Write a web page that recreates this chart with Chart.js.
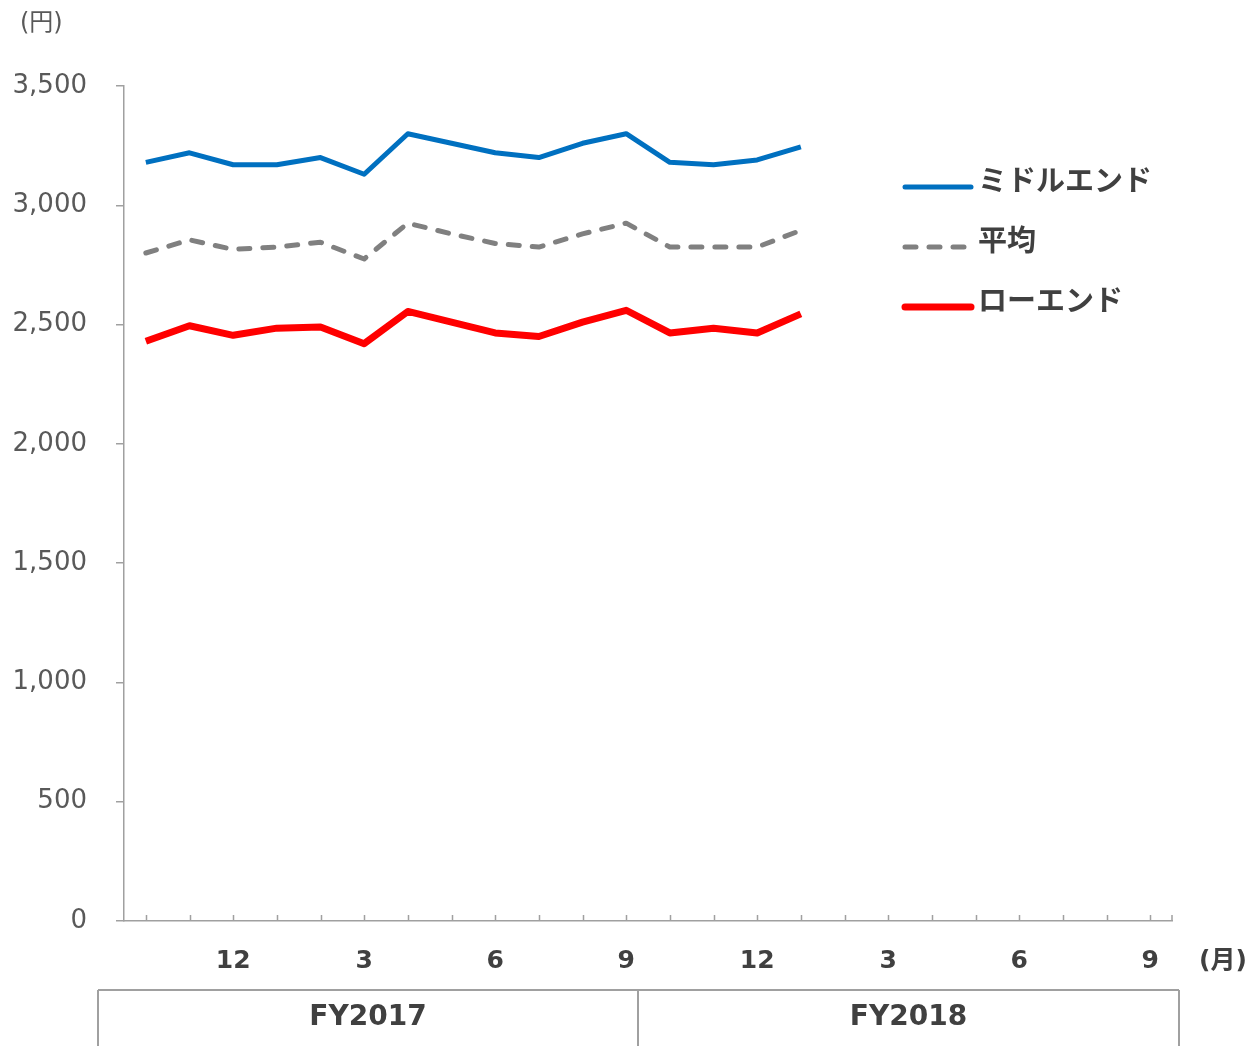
<!DOCTYPE html>
<html>
<head>
<meta charset="utf-8">
<script src="https://cdn.jsdelivr.net/npm/chart.js@4"></script>
<style>
  body { margin: 0; background: #fff; }
  canvas { display: block; }
</style>
</head>
<body>
<canvas id="chart" width="1253" height="1046"></canvas>
<script>
// months Oct 2016 - Sep 2018
const months = ["10", "11", "12", "1", "2", "3", "4", "5", "6", "7", "8", "9",
                "10", "11", "12", "1", "2", "3", "4", "5", "6", "7", "8", "9"];
const middleEnd = [3180, 3220, 3170, 3170, 3200, 3130, 3300, 3260, 3220, 3200, 3260, 3300, 3180, 3170, 3190, 3245];
const average   = [2800, 2855, 2815, 2825, 2845, 2775, 2925, 2880, 2840, 2825, 2880, 2925, 2825, 2825, 2825, 2895];
const lowEnd    = [2430, 2495, 2455, 2485, 2490, 2420, 2555, 2510, 2465, 2450, 2510, 2560, 2465, 2485, 2465, 2545];
const yTicks = [0, 500, 1000, 1500, 2000, 2500, 3000, 3500];
const fiscalYears = ["FY2017", "FY2018"];

const FONT = '"DejaVu Sans", Verdana, "Noto Sans CJK JP", sans-serif';
const AXIS_COLOR = "#a0a0a0";

// draws inward x ticks, unit labels, FY boxes and the legend
const extras = {
  id: "extras",
  afterDraw(chart) {
    const ctx = chart.ctx;
    const x = chart.scales.x;
    const bottom = x.top;

    ctx.save();
    ctx.strokeStyle = AXIS_COLOR;
    ctx.lineWidth = 1.5;
    ctx.beginPath();
    for (let i = 0; i < months.length; i++) {
      const px = Math.round(x.getPixelForTick(i)) + 0.5;
      ctx.moveTo(px, bottom);
      ctx.lineTo(px, bottom - 6);
    }
    ctx.moveTo(x.right, bottom);
    ctx.lineTo(x.right, bottom - 6);
    ctx.stroke();

    // units
    ctx.fillStyle = "#595959";
    ctx.font = "24px " + FONT;
    ctx.textAlign = "left";
    ctx.textBaseline = "middle";
    ctx.fillText("(円)", 20, 24);
    ctx.fillStyle = "#404040";
    ctx.font = "bold 25px " + FONT;
    ctx.fillText("(月)", 1199, 961);

    // fiscal year boxes
    const edges = [98, 638, 1179];
    ctx.strokeStyle = AXIS_COLOR;
    ctx.lineWidth = 2;
    ctx.beginPath();
    ctx.moveTo(edges[0], 990);
    ctx.lineTo(edges[2], 990);
    edges.forEach(e => { ctx.moveTo(e, 990); ctx.lineTo(e, 1046); });
    ctx.stroke();
    ctx.fillStyle = "#404040";
    ctx.font = "bold 28px " + FONT;
    ctx.textAlign = "center";
    fiscalYears.forEach((fy, i) => {
      ctx.fillText(fy, (edges[i] + edges[i + 1]) / 2, 1018);
    });

    // legend
    ctx.font = "bold 29px " + FONT;
    ctx.textAlign = "left";
    chart.data.datasets.forEach((ds, i) => {
      const ly = 187 + i * 60;
      ctx.strokeStyle = ds.borderColor;
      ctx.lineWidth = ds.borderWidth;
      ctx.lineCap = "round";
      ctx.setLineDash(ds.borderDash || []);
      ctx.beginPath();
      ctx.moveTo(905, ly);
      ctx.lineTo(971, ly);
      ctx.stroke();
      ctx.setLineDash([]);
      ctx.fillStyle = "#404040";
      ctx.fillText(ds.label, 978, ly - 4);
    });
    ctx.restore();
  }
};

new Chart(document.getElementById("chart"), {
  type: "line",
  data: {
    labels: months,
    datasets: [
      {
        label: "ミドルエンド",
        data: middleEnd,
        borderColor: "#0070c0",
        borderWidth: 5
      },
      {
        label: "平均",
        data: average,
        borderColor: "#808080",
        borderWidth: 5,
        borderDash: [11, 13],
        borderCapStyle: "round"
      },
      {
        label: "ローエンド",
        data: lowEnd,
        borderColor: "#ff0000",
        borderWidth: 7
      }
    ]
  },
  options: {
    responsive: false,
    animation: false,
    layout: { autoPadding: false, padding: { top: 86, right: 81, left: 0, bottom: 0 } },
    elements: {
      point: { radius: 0 },
      line: { tension: 0, borderJoinStyle: "round", fill: false }
    },
    plugins: {
      legend: { display: false },
      tooltip: { enabled: false }
    },
    scales: {
      x: {
        offset: true,
        grid: { display: false, drawTicks: false },
        border: { display: true, color: AXIS_COLOR, width: 1.5 },
        ticks: {
          autoSkip: false,
          maxRotation: 0,
          padding: 25,
          color: "#404040",
          font: { family: FONT, size: 25, weight: "bold" },
          callback: (v, i) => (i % 3 === 2 ? months[i] : "")
        },
        afterFit: s => { s.height = 125; }
      },
      y: {
        min: 0,
        max: 3500,
        afterBuildTicks: s => { s.ticks = yTicks.map(v => ({ value: v })); },
        grid: { drawOnChartArea: false, drawTicks: true, tickLength: 8, color: AXIS_COLOR, lineWidth: 1.5 },
        border: { display: true, color: AXIS_COLOR, width: 1.5 },
        ticks: {
          padding: 29,
          color: "#595959",
          font: { family: FONT, size: 26 },
          callback: v => v.toLocaleString("en-US")
        },
        afterFit: s => { s.width = 124; }
      }
    }
  },
  plugins: [extras]
});
</script>
</body>
</html>
